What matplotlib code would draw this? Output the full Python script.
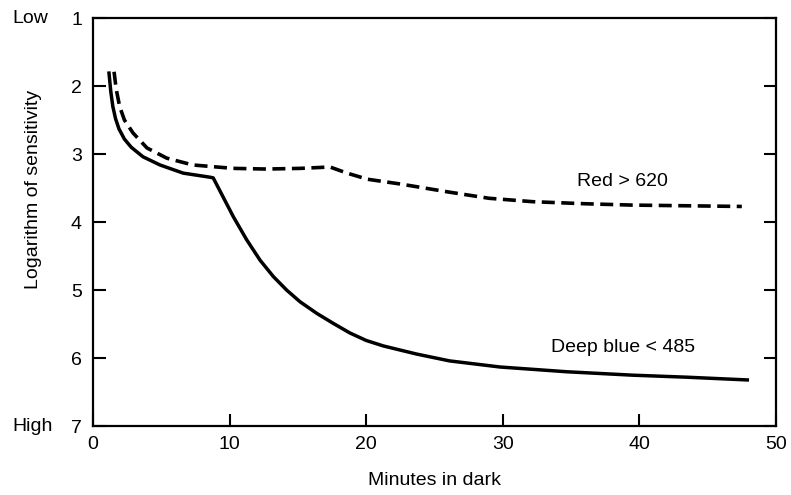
import matplotlib.pyplot as plt

# dark adaptation curves
red_x = [1.54, 1.7, 1.95, 2.3, 2.93, 3.95, 5.4, 7.3, 10.25, 12.7, 15.2, 17.35, 18.6, 20.1, 22.5, 26.1, 29.0, 32.2, 36.0, 39.5, 43.5, 47.5]
red_y = [1.79, 2.05, 2.30, 2.50, 2.69, 2.91, 3.06, 3.16, 3.21, 3.22, 3.21, 3.19, 3.28, 3.37, 3.44, 3.56, 3.65, 3.70, 3.73, 3.75, 3.76, 3.77]

blue_x = [1.17, 1.3, 1.45, 1.65, 1.9, 2.3, 2.8, 3.66, 4.9, 6.6, 8.56, 8.8, 10.27, 11.25, 12.23, 13.2, 14.18, 15.15,
          16.37, 17.6, 18.81, 20.0, 21.25, 22.47, 23.7, 24.9, 26.1, 29.8, 34.7, 39.5, 43.5, 47.9]
blue_y = [1.81, 2.08, 2.30, 2.48, 2.63, 2.78, 2.90, 3.04, 3.16, 3.28, 3.34, 3.35, 3.92, 4.26, 4.56, 4.80, 5.00, 5.17,
          5.34, 5.49, 5.63, 5.74, 5.82, 5.88, 5.94, 5.99, 6.04, 6.13, 6.20, 6.25, 6.28, 6.32]

xticks = [0, 10, 20, 30, 40, 50]
yticks = [1, 2, 3, 4, 5, 6, 7]

plt.rcParams['font.family'] = ['Liberation Sans', 'DejaVu Sans']

fig = plt.figure(figsize=(7.91, 4.95), dpi=100)
ax = fig.add_axes([0.1176, 0.139, 0.8634, 0.8246])

ax.plot(red_x, red_y, color='black', lw=2.6, ls=(0, (3.6, 1.8)), solid_joinstyle='round')
ax.plot(blue_x, blue_y, color='black', lw=2.5, solid_joinstyle='round')

ax.set_xlim(0, 50)
ax.set_ylim(7, 1)
ax.set_xticks(xticks)
ax.set_yticks(yticks)
ax.tick_params(axis='both', direction='in', labelsize=14, width=1.5)
ax.tick_params(axis='y', length=9, right=True, pad=8)
ax.tick_params(axis='x', length=9, pad=7)
for s in ax.spines.values():
    s.set_linewidth(1.6)

ax.text(-0.118, 1.0, 'Low', transform=ax.transAxes, fontsize=14, va='center', ha='left')
ax.text(-0.118, 0.0, 'High', transform=ax.transAxes, fontsize=14, va='center', ha='left')

ax.text(35.4, 3.41, 'Red > 620', fontsize=14, va='center')
ax.text(33.5, 5.84, 'Deep blue < 485', fontsize=14, va='center')

ax.set_xlabel('Minutes in dark', fontsize=14, labelpad=14)
ax.set_ylabel('Logarithm of sensitivity', fontsize=14)
ax.yaxis.set_label_coords(-0.075, 0.58)

fig.savefig('out.png', dpi=100)
